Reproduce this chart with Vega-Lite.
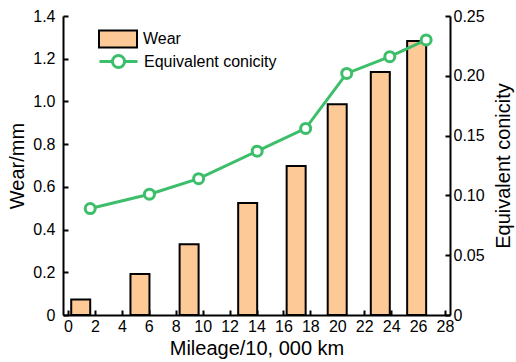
{
  "$schema": "https://vega.github.io/schema/vega-lite/v6.json",
  "width": 387,
  "height": 299,
  "autosize": {"type": "none"},
  "padding": {"left": 63, "top": 16, "right": 66, "bottom": 47},
  "background": "white",
  "data": {
    "values": [
      {"mileage": 1.65, "wear": 0.073, "conicity": 0.089},
      {"mileage": 6.05, "wear": 0.192, "conicity": 0.101},
      {"mileage": 9.7, "wear": 0.331, "conicity": 0.114},
      {"mileage": 14.05, "wear": 0.524, "conicity": 0.137},
      {"mileage": 17.65, "wear": 0.698, "conicity": 0.156},
      {"mileage": 20.7, "wear": 0.987, "conicity": 0.202},
      {"mileage": 23.9, "wear": 1.138, "conicity": 0.216},
      {"mileage": 26.6, "wear": 1.283, "conicity": 0.23}
    ]
  },
  "config": {
    "view": {"stroke": null},
    "font": "Liberation Sans",
    "axis": {
      "grid": false,
      "domainColor": "black",
      "domainWidth": 2,
      "tickColor": "black",
      "tickWidth": 2,
      "tickSize": -5,
      "labelFont": "Liberation Sans",
      "labelFontSize": 16,
      "labelColor": "black",
      "labelOverlap": false,
      "labelFlush": false,
      "titleFont": "Liberation Sans",
      "titleFontSize": 20,
      "titleFontWeight": "normal",
      "titleColor": "black"
    },
    "axisX": {"labelOverlap": false, "labelFlush": false},
    "legend": {
      "labelFont": "Liberation Sans",
      "labelFontSize": 16,
      "labelColor": "black",
      "padding": 0
    }
  },
  "encoding": {
    "x": {
      "field": "mileage",
      "type": "quantitative",
      "scale": {"domain": [0, 28], "nice": false, "zero": true},
      "axis": {
        "title": "Mileage/10, 000 km",
        "values": [0, 2, 4, 6, 8, 10, 12, 14, 16, 18, 20, 22, 24, 26, 28],
        "labelOverlap": false,
        "labelFlush": false,
        "labelBound": false,
        "labelPadding": 8,
        "titlePadding": 4
      }
    }
  },
  "layer": [
    {
      "mark": {
        "type": "bar",
        "width": 19,
        "xOffset": -9.5,
        "stroke": "black",
        "strokeWidth": 2
      },
      "encoding": {
        "y": {
          "field": "wear",
          "type": "quantitative",
          "scale": {"domain": [0, 1.4], "nice": false},
          "axis": {
            "title": "Wear/mm",
            "orient": "left",
            "values": [0, 0.2, 0.4, 0.6, 0.8, 1.0, 1.2, 1.4],
            "labelExpr": "datum.value === 0 ? '0' : format(datum.value, '.1f')",
            "labelOverlap": false,
            "labelFlush": false,
            "labelPadding": 13,
            "titlePadding": 5
          }
        },
        "fill": {
          "datum": "Wear",
          "scale": {"range": ["#FDC997"]},
          "legend": {
            "title": null,
            "orient": "none",
            "legendX": 35,
            "legendY": 3,
            "symbolType": "M-1,-0.45H1V0.45H-1Z",
            "symbolSize": 1444,
            "symbolStrokeColor": "black",
            "symbolStrokeWidth": 2,
            "symbolOpacity": 1,
            "labelOffset": 5
          }
        }
      }
    },
    {
      "mark": {
        "type": "line",
        "strokeWidth": 3,
        "point": {"filled": false, "fill": "white", "size": 100, "strokeWidth": 3}
      },
      "encoding": {
        "y": {
          "field": "conicity",
          "type": "quantitative",
          "scale": {"domain": [0, 0.25], "nice": false},
          "axis": {
            "title": "Equivalent conicity",
            "orient": "right",
            "values": [0, 0.05, 0.1, 0.15, 0.2, 0.25],
            "labelExpr": "datum.value === 0 ? '0' : format(datum.value, '.2f')",
            "labelOverlap": false,
            "labelFlush": false,
            "labelPadding": 8,
            "titlePadding": 29,
            "titleAngle": 270
          }
        },
        "stroke": {
          "datum": "Equivalent conicity",
          "scale": {"range": ["#3DBE6A"]},
          "legend": {
            "title": null,
            "orient": "none",
            "legendX": 35,
            "legendY": 25,
            "symbolType": "M-1,0H-0.32M0.32,0H1M-0.32,0A0.32,0.32 0 1,0 0.32,0A0.32,0.32 0 1,0 -0.32,0",
            "symbolSize": 1444,
            "symbolFillColor": "white",
            "symbolStrokeWidth": 3,
            "symbolOpacity": 1,
            "labelOffset": 5
          }
        }
      }
    }
  ],
  "resolve": {"scale": {"y": "independent"}}
}
